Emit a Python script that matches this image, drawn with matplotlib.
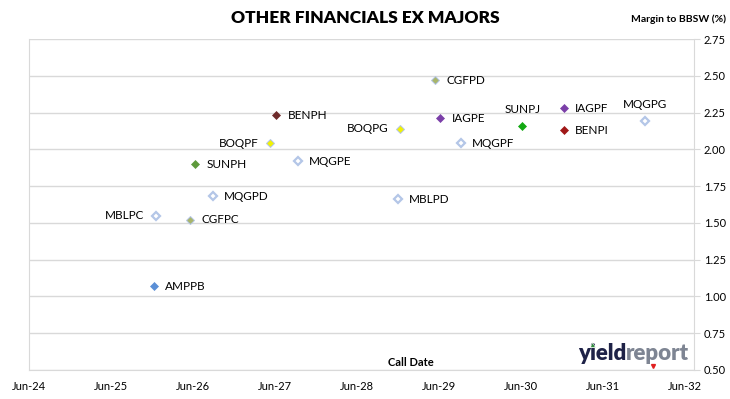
import matplotlib
matplotlib.use("Agg")
import matplotlib.pyplot as plt
import matplotlib.dates as mdates
from matplotlib.lines import Line2D
import numpy as np
from datetime import datetime

plt.rcParams['font.family'] = ['Lato', 'DejaVu Sans']

# ---- data ----
codes = ["AMPPB", "MBLPC", "CGFPC", "SUNPH", "MQGPD", "BOQPF", "BENPH", "MQGPE",
         "MBLPD", "BOQPG", "CGFPD", "IAGPE", "MQGPF", "SUNPJ", "IAGPF", "BENPI", "MQGPG"]
call_dates = ["2025-12-10", "2025-12-17", "2026-05-20", "2026-06-12", "2026-08-30",
              "2027-05-10", "2027-06-08", "2027-09-10", "2028-12-01", "2028-12-07",
              "2029-05-15", "2029-06-07", "2029-09-07", "2030-06-07", "2030-12-08",
              "2030-12-08", "2031-12-05"]
margins = [1.07, 1.55, 1.52, 1.90, 1.68, 2.04, 2.23, 1.92,
           1.66, 2.14, 2.47, 2.21, 2.04, 2.16, 2.28, 2.13, 2.19]
issuer_fill = {"AMP": "#5B8FD6", "MBL": "white", "MQG": "white", "CGF": "#A8B56A",
               "SUN": None, "BOQ": "#F2F200", "BEN": None, "IAG": "#7B3FA8"}
fills = {"SUNPH": "#5E9A3C", "SUNPJ": "#12A812", "BENPH": "#6E2A2A", "BENPI": "#A01818"}
label_pos = {"MBLPC": "left", "BOQPF": "left", "BOQPG": "left",
             "SUNPJ": "above", "MQGPG": "above"}
x_ticks = ["2024-06-01", "2025-06-01", "2026-06-01", "2027-06-01", "2028-06-01",
           "2029-06-01", "2030-06-01", "2031-06-01", "2032-06-01"]
y_ticks = [0.50, 0.75, 1.00, 1.25, 1.50, 1.75, 2.00, 2.25, 2.50, 2.75]

fig = plt.figure(figsize=(7.3, 3.99), dpi=100)
ax = fig.add_axes([29/730, 29/399, (694-29)/730, (370-39)/399])

xd = [mdates.date2num(datetime.strptime(d, "%Y-%m-%d")) for d in call_dates]

for code, x, y in zip(codes, xd, margins):
    iss = code[:3]
    if code in fills:
        fc = fills[code]; ec = fc; mew = 0.5; ms = 4.2
    elif iss in ("MBL", "MQG"):
        fc = "white"; ec = "#B4C6E7"; mew = 1.6; ms = 4.3
    elif iss in ("CGF", "BOQ"):
        fc = issuer_fill[iss]; ec = "#B4C6E7"; mew = 0.7; ms = 4.5
    else:
        fc = issuer_fill[iss]; ec = fc; mew = 0.5; ms = 4.2
    ax.plot([x], [y], marker="D", ms=ms, mfc=fc, mec=ec, mew=mew, ls="none", zorder=3)
    pos = label_pos.get(code, "right")
    if pos == "right":
        ax.annotate(code, (x, y), xytext=(8, 0), textcoords="offset points",
                    ha="left", va="center", fontsize=8.5)
    elif pos == "left":
        ax.annotate(code, (x, y), xytext=(-8, 0), textcoords="offset points",
                    ha="right", va="center", fontsize=8.5)
    else:
        ax.annotate(code, (x, y), xytext=(0, 12), textcoords="offset points",
                    ha="center", va="center", fontsize=8.5)

xt = [mdates.date2num(datetime.strptime(d, "%Y-%m-%d")) for d in x_ticks]
ax.set_xlim(xt[0], mdates.date2num(datetime(2032, 7, 10)))
ax.set_ylim(0.5, 2.75)
ax.set_xticks(xt)
ax.set_xticklabels([datetime.strptime(d, "%Y-%m-%d").strftime("%b-%y") for d in x_ticks],
                   fontsize=8)
ax.set_yticks(y_ticks)
ax.set_yticklabels([f"{v:.2f}" for v in y_ticks], fontsize=8)
ax.yaxis.tick_right()
ax.tick_params(axis="y", length=4, color="#D9D9D9", pad=3)
ax.tick_params(axis="x", length=0, pad=8)
ax.grid(axis="y", color="#D9D9D9", lw=1)
ax.set_axisbelow(True)
for s in ["left", "right", "bottom"]:
    ax.spines[s].set_color("#D9D9D9")
ax.spines["top"].set_visible(False)

fig.text(0.5, 0.955, "OTHER FINANCIALS EX MAJORS", ha="center", va="center",
         fontsize=12.5, fontweight="heavy")
fig.text(0.995, 0.952, "Margin to BBSW (%)", ha="right", va="center",
         fontsize=7.5, fontweight="bold")
fig.text(411/730, 1 - 363/399, "Call Date", ha="center", va="center",
         fontsize=8, fontweight="bold")

# logo
W = fig.bbox.width
H = fig.bbox.height
lx0 = 578
lfs = 16
base_y = 1 - 360/399
t1 = fig.text(lx0/730, base_y, "yield", ha="left", va="baseline",
              fontsize=lfs, fontweight="heavy", color="#1E2247")
fig.canvas.draw()
r = fig.canvas.get_renderer()
def wid(s):
    t = fig.text(0, 0, s, fontsize=lfs, fontweight="heavy")
    w = t.get_window_extent(r).width
    t.remove()
    return w
bb = t1.get_window_extent(r)
fig.text(bb.x1 / W, base_y, "report", ha="left", va="baseline",
         fontsize=lfs, fontweight="heavy", color="#7E8593")
xi = lx0 + wid("y") + wid("i") / 2 - 1
xp = bb.x1 + wid("re") + wid("p") / 2
fig.add_artist(Line2D([xi / W], [1 - 343.5/399], marker="^", ms=3.6, color="#2E8B3A",
                      mec="white", mew=0.4, ls="none", transform=fig.transFigure, zorder=6))
fig.add_artist(Line2D([xp / W], [1 - 366/399], marker="v", ms=2.8, color="#E02020",
                      ls="none", transform=fig.transFigure, zorder=6))

fig.savefig("out.png", dpi=100)
